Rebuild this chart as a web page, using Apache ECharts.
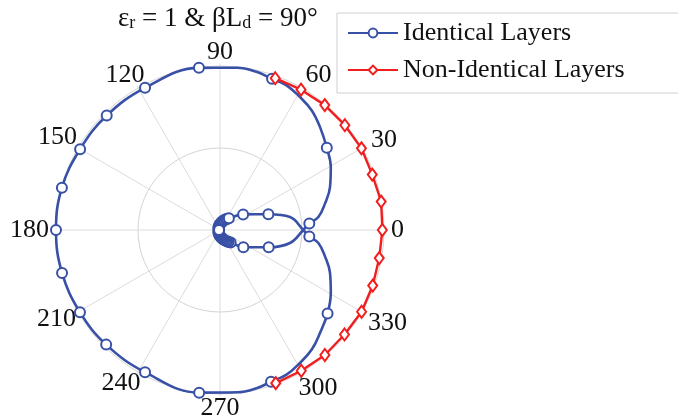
<!DOCTYPE html>
<html>
<head>
<meta charset="utf-8">
<script src="https://cdn.jsdelivr.net/npm/echarts@6/dist/echarts.min.js"></script>
<style>
  html, body { margin: 0; padding: 0; background: #fff; }
  #chart { width: 678px; height: 420px; }
</style>
</head>
<body>
<div id="chart"></div>
<script>
// Angle ticks (degrees) shown around the polar plot
var angleTicks = [0, 30, 60, 90, 120, 150, 180, 210, 240, 270, 300, 330];
var angleTickLabels = ['0', '30', '60', '90', '120', '150', '180', '210', '240', '270', '300', '330'];

// Identical Layers: normalized radius, angle (deg) and whether a marker is drawn, in drawing order
var identicalR = [
  0.006, 0.01, 0.015, 0.02, 0.026, 0.032, 0.038, 0.045, 0.052, 0.06, 0.067, 0.075, 0.082, 0.09,
  0.17, 0.31, 0.434, 0.508,
  0.546, 0.605, 0.66, 0.72, 0.777, 0.83, 0.875, 0.919, 0.946, 0.971, 0.976,
  0.99, 0.995, 1.0, 0.98, 0.985, 0.99, 0.998, 1.0,
  0.998, 0.985, 0.982, 0.98, 0.997, 0.995, 0.99,
  0.975, 0.971, 0.946, 0.919, 0.875, 0.822, 0.777, 0.72, 0.66, 0.605, 0.546,
  0.508, 0.434, 0.315, 0.177,
  0.10, 0.09, 0.082, 0.075, 0.067, 0.06, 0.052, 0.045, 0.038, 0.032, 0.026, 0.02, 0.015, 0.01, 0.006];
var identicalA = [
  180, 150, 130, 115, 104, 95, 88, 82, 77, 72, 67, 62, 57, 53,
  34, 18, 10.5, 0,
  355.9, 352.5, 345.9, 338.7, 330.4, 322.2, 314.2, 307.5, 301, 294.7, 288.6,
  283, 276, 262.7, 242.2, 225.2, 210.4, 195.2, 180,
  165, 150, 134.7, 117.8, 97.4, 84, 77,
  71, 65.3, 59, 52.5, 45.8, 37.6, 29.6, 21.3, 14.1, 7.5, 4.1,
  0, 349.5, 340.5, 323.6,
  310.6, 306, 302, 298, 293, 288, 283, 278, 272, 265, 256, 245, 230, 210, 180];
var identicalMarked = [
  1, 1, 1, 1, 1, 1, 1, 1, 1, 1, 1, 1, 1, 1,
  1, 1, 0, 0,
  1, 0, 0, 0, 0, 1, 0, 0, 0, 0, 1,
  0, 0, 1, 1, 1, 1, 1, 1,
  1, 1, 1, 1, 1, 0, 0,
  1, 0, 0, 0, 0, 1, 0, 0, 0, 0, 1,
  0, 0, 1, 1,
  1, 1, 1, 1, 1, 1, 1, 1, 1, 1, 1, 1, 1, 1, 1];

// Non-Identical Layers: normalized radius and angle (deg)
var nonIdenticalR = [0.985, 0.988, 0.994, 0.994, 0.996, 0.988, 0.998, 0.99,
  0.986, 0.991, 0.997, 0.991, 0.995, 0.991, 0.994];
var nonIdenticalA = [70, 60, 50, 40, 30, 20, 10, 0,
  350, 340, 330, 320, 310, 300, 290];

var serif = 'Liberation Serif';
// radius axis runs a little past 1 so that lines lying on the unit circle are not clipped
var rMax = 1.015;
var unitRadiusPx = 164;

var identicalData = identicalR.map(function (r, i) {
  var item = { value: [r, identicalA[i]] };
  if (!identicalMarked[i]) { item.symbol = 'none'; }
  return item;
});
var nonIdenticalData = nonIdenticalR.map(function (r, i) { return [r, nonIdenticalA[i]]; });

// per-label fine placement of the angle tick labels
var labelBase = { fontFamily: serif, fontSize: 26, color: '#111', lineHeight: 14 };
var labelPad = {
  'a30': [0, 0, -5, 3],
  'a120': [0, -10, 0, 0],
  'a150': [0, -5, 0, 0],
  'a210': [-7, -4, 0, 0],
  'a240': [-4, -6, 0, 0],
  'a300': [6, 0, 0, -7],
  'a330': [2, 0, 0, 0]
};
var labelRich = {};
angleTicks.forEach(function (t) {
  var s = Object.assign({}, labelBase);
  if (labelPad['a' + t]) { s.padding = labelPad['a' + t]; }
  labelRich['a' + t] = s;
});

var grey = '#d4d4d4';
var chart = echarts.init(document.getElementById('chart'), null, { renderer: 'canvas' });
chart.setOption({
  backgroundColor: '#ffffff',
  animation: false,
  title: {
    text: '{m|ε}{s|r}{m| = 1 & β}{m|L}{s|d}{m| = 90°}',
    left: 118,
    top: 2,
    padding: 0,
    textStyle: {
      rich: {
        m: { fontFamily: serif, fontSize: 27, fontWeight: 'normal', color: '#111', lineHeight: 30, verticalAlign: 'bottom' },
        s: { fontFamily: serif, fontSize: 18, fontWeight: 'normal', color: '#111', lineHeight: 14, verticalAlign: 'bottom' }
      }
    }
  },
  legend: {
    orient: 'vertical',
    left: 337,
    top: 13,
    padding: [7, 120, 10, 10],
    itemWidth: 50,
    itemHeight: 11,
    itemGap: 11,
    borderColor: '#cfcfcf',
    borderWidth: 1,
    backgroundColor: '#fff',
    textStyle: { fontFamily: serif, fontSize: 26, color: '#111', lineHeight: 26 },
    data: ['Identical Layers', 'Non-Identical Layers']
  },
  polar: { center: [220, 230], radius: unitRadiusPx * rMax },
  angleAxis: {
    type: 'value',
    min: 0,
    max: 360,
    interval: 30,
    startAngle: 0,
    clockwise: false,
    axisLine: { show: false },
    axisTick: { show: false },
    splitLine: { show: true, lineStyle: { color: '#dcdcdc', width: 1 } },
    axisLabel: {
      margin: 4.5,
      fontFamily: serif,
      fontSize: 26,
      color: '#111',
      lineHeight: 14,
      rich: labelRich,
      formatter: function (v) {
        var t = Math.round(v);
        var i = angleTicks.indexOf(t);
        return i >= 0 ? '{a' + t + '|' + angleTickLabels[i] + '}' : '';
      }
    }
  },
  radiusAxis: {
    type: 'value',
    min: 0,
    max: rMax,
    interval: 0.5,
    axisLine: { show: false },
    axisTick: { show: false },
    axisLabel: { show: false },
    splitLine: { show: true, lineStyle: { color: [grey, grey, grey, 'rgba(0,0,0,0)'], width: 1 } }
  },
  series: [
    {
      name: 'Identical Layers',
      type: 'line',
      coordinateSystem: 'polar',
      smooth: 0.4,
      data: identicalData,
      symbol: 'emptyCircle',
      symbolSize: 10,
      lineStyle: { color: '#3850a6', width: 2.6 },
      itemStyle: { color: '#3850a6', borderWidth: 2.2 }
    },
    {
      name: 'Non-Identical Layers',
      type: 'line',
      coordinateSystem: 'polar',
      smooth: false,
      data: nonIdenticalData,
      symbol: 'emptyDiamond',
      symbolSize: [9, 12],
      lineStyle: { color: '#f01e1e', width: 2.4 },
      itemStyle: { color: '#f01e1e', borderWidth: 2 }
    }
  ]
});
</script>
</body>
</html>
